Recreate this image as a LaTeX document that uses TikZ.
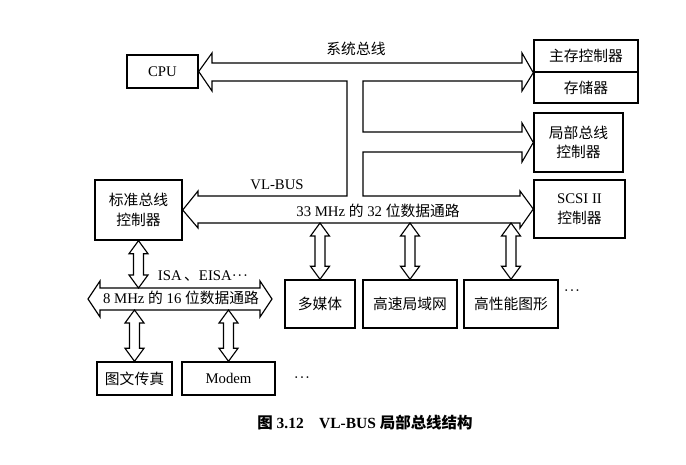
\documentclass[tikz,border=0pt]{standalone}
\usepackage{fontspec}
\setmainfont{Liberation Serif}
\newfontfamily\cjk{Noto Sans CJK SC}
\usetikzlibrary{calc}
\newcommand{\zh}[1]{{\cjk #1}}
\newcommand{\mdots}{\textperiodcentered\kern.05em\textperiodcentered\kern.05em\textperiodcentered}
\tikzset{
  unitbox/.style={draw, line width=1pt, align=center, inner sep=1pt,
    font=\fontsize{10.5}{14}\selectfont},
  wh/.style 2 args={minimum width=#1*0.025cm, minimum height=#2*0.025cm},
  busline/.style={draw, line width=0.8pt},
  buslabel/.style={inner sep=1pt, font=\fontsize{10.5}{13}\selectfont}
}
% hollow two-way arrow between a top tip and a bottom tip
\newcommand{\vbus}[2]{%
  \draw[busline] (#1) -- ($(#1)+(9.5,13)$) -- ($(#1)+(5,13)$) -- ($(#2)+(5,-13)$)
    -- ($(#2)+(9.5,-13)$) -- (#2) -- ($(#2)+(-9.5,-13)$) -- ($(#2)+(-5,-13)$)
    -- ($(#1)+(-5,13)$) -- ($(#1)+(-9.5,13)$) -- cycle;}

\begin{document}
\begin{tikzpicture}[x=0.025cm, y=-0.025cm]
    \useasboundingbox (0,0) rectangle (686,465);
    % units
    \node[unitbox, wh={71}{33}] (cpu) at (162.5,71.5) {CPU};
    \node[unitbox, wh={104}{32}] (mainctl) at (586,56) {\zh{主存控制器}};
    \node[unitbox, wh={104}{31}] (memory) at (586,87.5) {\zh{存储器}};
    \node[unitbox, wh={89}{59}] (localctl) at (578.5,142.5) {\zh{局部总线}\\\zh{控制器}};
    \node[unitbox, wh={91}{58}] (scsi) at (579.5,209) {SCSI II\\\zh{控制器}};
    \node[unitbox, wh={87}{60}] (stdctl) at (138.5,210) {\zh{标准总线}\\\zh{控制器}};
    \node[unitbox, wh={70}{48}] (media) at (320,304) {\zh{多媒体}};
    \node[unitbox, wh={94}{48}] (lan) at (410,304) {\zh{高速局域网}};
    \node[unitbox, wh={94}{48}] (graph) at (511,304) {\zh{高性能图形}};
    \node[unitbox, wh={75}{33}] (fax) at (134.5,378.5) {\zh{图文传真}};
    \node[unitbox, wh={93}{33}] (modem) at (228.5,378.5) {Modem};
    % system bus + VL-BUS
    \draw[busline] (cpu.east) -- (212,53) -- (212,63) -- (522,63) -- (522,53)
      -- (mainctl.south west) -- (522,91) -- (522,81) -- (363,81) -- (363,132)
      -- (522,132) -- (522,123) -- (localctl.west) -- (522,162) -- (522,152)
      -- (363,152) -- (363,196) -- (520,196) -- (520,191) -- (scsi.west)
      -- (520,228) -- (520,223) -- (198,223) -- (198,228) -- (stdctl.east)
      -- (198,191) -- (198,196) -- (347,196) -- (347,81) -- (212,81)
      -- (212,91) -- cycle;
    \coordinate (vlbot) at (0,223);
    % ISA bus
    \draw[busline] (88,299) -- (100,281) -- (100,288) -- (260,288) -- (260,281)
      -- (272,299) -- (260,317) -- (260,310) -- (100,310) -- (100,317) -- cycle;
    \coordinate (isatop) at (0,288);
    \coordinate (isabot) at (0,310);
    % labels
    \node[buslabel] (sysname) at (356,49) {\zh{系统总线}};
    \node[buslabel] (vlname) at (277,185) {VL-BUS};
    \node[buslabel] (vlrate) at (378,211) {33 MHz \zh{的} 32 \zh{位数据通路}};
    \node[buslabel] (isaname) at (203,276) {ISA\,\zh{、}EISA\mdots};
    \node[buslabel] (isarate) at (181,298) {8 MHz \zh{的} 16 \zh{位数据通路}};
    \node[buslabel] (moreup) at (572,293) {\mdots};
    \node[buslabel] (moredown) at (302,380) {\mdots};
    % branches
    \vbus{media.north |- vlbot}{media.north}
    \vbus{lan.north |- vlbot}{lan.north}
    \vbus{graph.north |- vlbot}{graph.north}
    \vbus{stdctl.south}{stdctl.south |- isatop}
    \vbus{fax.north |- isabot}{fax.north}
    \vbus{modem.north |- isabot}{modem.north}
    % caption
    \node[buslabel, font=\bfseries\fontsize{11}{13}\selectfont] (caption) at (365,423)
      {\zh{图} 3.12\quad VL-BUS \zh{局部总线结构}};
  \end{tikzpicture}
\end{document}
